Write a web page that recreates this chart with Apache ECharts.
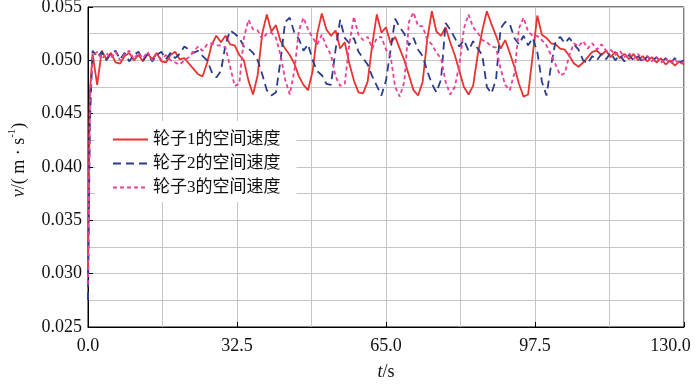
<!DOCTYPE html>
<html><head><meta charset="utf-8">
<script src="https://cdn.jsdelivr.net/npm/echarts@6/dist/echarts.min.js"></script>
<style>html,body{margin:0;padding:0;background:#fff}#c{width:700px;height:385px}</style>
</head><body><div id="c"></div>
<script>
const times = [0,0.4,1,2,3,4,5,6,7,8,9,10,11,12,13,14,15,16,17,18,19,20,21,22,23,24,25,26,27,28,29,30,31,32,33,34,35,36,37,38,39,40,41,42,43,44,45,46,47,48,49,50,51,52,53,54,55,56,57,58,59,60,61,62,63,64,65,66,67,68,69,70,71,72,73,74,75,76,77,78,79,80,81,82,83,84,85,86,87,88,89,90,91,92,93,94,95,96,97,98,99,100,101,102,103,104,105,106,107,108,109,110,111,112,113,114,115,116,117,118,119,120,121,122,123,124,125,126,127,128,129,130];
const wheel1 = [0.0300,0.0470,0.0506,0.0477,0.0509,0.0501,0.0507,0.0498,0.0497,0.0504,0.0507,0.0500,0.0505,0.0499,0.0506,0.0501,0.0507,0.0499,0.0498,0.0505,0.0508,0.0501,0.0502,0.0497,0.0492,0.0487,0.0485,0.0498,0.0515,0.0523,0.0517,0.0523,0.0515,0.0514,0.0505,0.0500,0.0481,0.0468,0.0486,0.0525,0.0543,0.0527,0.0533,0.0518,0.0511,0.0505,0.0497,0.0485,0.0477,0.0472,0.0490,0.0525,0.0544,0.0529,0.0523,0.0528,0.0511,0.0517,0.0497,0.0481,0.0470,0.0469,0.0480,0.0515,0.0543,0.0526,0.0531,0.0516,0.0522,0.0511,0.0500,0.0486,0.0472,0.0467,0.0480,0.0520,0.0546,0.0527,0.0523,0.0531,0.0517,0.0505,0.0490,0.0475,0.0468,0.0476,0.0505,0.0528,0.0546,0.0534,0.0523,0.0511,0.0519,0.0507,0.0494,0.0478,0.0466,0.0468,0.0505,0.0542,0.0524,0.0521,0.0516,0.0515,0.0511,0.0510,0.0504,0.0497,0.0494,0.0498,0.0503,0.0508,0.0509,0.0505,0.0509,0.0503,0.0508,0.0502,0.0506,0.0501,0.0506,0.0500,0.0504,0.0499,0.0503,0.0498,0.0502,0.0496,0.0500,0.0495,0.0499,0.0496];
const wheel2 = [0.0275,0.0440,0.0509,0.0503,0.0508,0.0500,0.0506,0.0509,0.0501,0.0507,0.0499,0.0505,0.0508,0.0500,0.0506,0.0499,0.0505,0.0508,0.0501,0.0507,0.0502,0.0506,0.0513,0.0510,0.0507,0.0509,0.0504,0.0500,0.0489,0.0484,0.0490,0.0515,0.0528,0.0525,0.0521,0.0513,0.0511,0.0507,0.0500,0.0487,0.0472,0.0467,0.0470,0.0500,0.0536,0.0540,0.0526,0.0520,0.0509,0.0515,0.0500,0.0490,0.0486,0.0478,0.0477,0.0510,0.0538,0.0521,0.0516,0.0521,0.0508,0.0502,0.0496,0.0485,0.0476,0.0467,0.0481,0.0510,0.0539,0.0531,0.0525,0.0514,0.0521,0.0510,0.0504,0.0490,0.0478,0.0470,0.0482,0.0535,0.0529,0.0521,0.0513,0.0519,0.0509,0.0518,0.0511,0.0505,0.0475,0.0469,0.0482,0.0530,0.0536,0.0534,0.0521,0.0515,0.0523,0.0514,0.0521,0.0508,0.0480,0.0467,0.0495,0.0518,0.0522,0.0516,0.0521,0.0515,0.0510,0.0500,0.0497,0.0504,0.0500,0.0506,0.0501,0.0507,0.0500,0.0505,0.0499,0.0505,0.0500,0.0504,0.0498,0.0504,0.0499,0.0503,0.0498,0.0502,0.0497,0.0502,0.0498,0.0500];
const wheel3 = [0.0290,0.0460,0.0504,0.0508,0.0501,0.0507,0.0502,0.0508,0.0500,0.0506,0.0509,0.0501,0.0507,0.0502,0.0508,0.0500,0.0506,0.0501,0.0505,0.0500,0.0498,0.0496,0.0500,0.0503,0.0508,0.0513,0.0509,0.0515,0.0516,0.0514,0.0514,0.0512,0.0494,0.0476,0.0478,0.0521,0.0538,0.0529,0.0528,0.0520,0.0525,0.0526,0.0521,0.0505,0.0482,0.0468,0.0490,0.0528,0.0540,0.0529,0.0521,0.0515,0.0524,0.0513,0.0505,0.0485,0.0476,0.0478,0.0515,0.0541,0.0524,0.0519,0.0522,0.0511,0.0521,0.0522,0.0510,0.0504,0.0475,0.0466,0.0480,0.0536,0.0545,0.0532,0.0532,0.0519,0.0515,0.0507,0.0502,0.0480,0.0468,0.0475,0.0496,0.0530,0.0543,0.0531,0.0526,0.0519,0.0517,0.0513,0.0512,0.0492,0.0477,0.0472,0.0488,0.0530,0.0540,0.0527,0.0523,0.0523,0.0519,0.0514,0.0505,0.0496,0.0486,0.0488,0.0505,0.0516,0.0513,0.0518,0.0511,0.0516,0.0510,0.0515,0.0509,0.0510,0.0505,0.0509,0.0503,0.0507,0.0501,0.0506,0.0500,0.0504,0.0499,0.0503,0.0498,0.0502,0.0497,0.0501,0.0496,0.0499];
const seriesNames = ['轮子1的空间速度','轮子2的空间速度','轮子3的空间速度'];
const xTicks = [0, 32.5, 65, 97.5, 130];
const yTicks = [0.025, 0.030, 0.035, 0.040, 0.045, 0.050, 0.055];

const FONT = "'Liberation Serif','Noto Sans CJK SC',serif";
const grey = '#cbc4c4';
const chart = echarts.init(document.getElementById('c'), null, {renderer:'canvas'});
const pairs = arr => times.map((t,i)=>[t, arr[i]]);
const colors = ['#e8332f','#2c3c8c','#ec3f96'];
const dashes = ['solid',[8,5],[4,3]];
const vals = [wheel1, wheel2, wheel3];
chart.setOption({
  animation:false,
  grid:{left:88,right:16,top:7,bottom:58,show:true,borderColor:'#000',borderWidth:1,backgroundColor:'transparent',
        containLabel:false, outerBoundsMode:'none'},
  legend:{
    orient:'vertical', left:95, top:121, itemWidth:35, itemHeight:14, itemGap:7,
    padding:[10,16,6,17], backgroundColor:'#fff',
    itemStyle:{opacity:0},
    textStyle:{fontFamily:FONT,fontSize:17,color:'#111'},
    data:seriesNames
  },
  xAxis:{
    type:'value', min:xTicks[0], max:xTicks[xTicks.length-1], interval:32.5,
    axisLine:{show:true,lineStyle:{color:'#000'}},
    axisTick:{show:true,inside:true,length:5,lineStyle:{color:'#000'}},
    minorTick:{show:false,splitNumber:2},
    splitLine:{show:true,lineStyle:{color:grey,width:1}},
    minorSplitLine:{show:true,lineStyle:{color:grey,width:1}},
    axisLabel:{fontFamily:FONT,fontSize:18,color:'#111',margin:10,
      formatter:v=> v===130 ? '{r|130.0}' : v.toFixed(1),
      rich:{r:{fontFamily:FONT,fontSize:18,color:'#111',padding:[0,27,0,0]}}},
    name:'{i|t}/s', nameLocation:'middle', nameGap:36,
    nameTextStyle:{fontFamily:FONT,fontSize:18,color:'#111',rich:{i:{fontFamily:FONT,fontSize:18,fontStyle:'italic',color:'#111'}}}
  },
  yAxis:{
    type:'value', min:yTicks[0], max:yTicks[yTicks.length-1], interval:0.005,
    axisLine:{show:true,lineStyle:{color:'#000'}},
    axisTick:{show:true,inside:true,length:5,lineStyle:{color:'#000'}},
    minorTick:{show:false,splitNumber:2},
    splitLine:{show:true,lineStyle:{color:grey,width:1}},
    minorSplitLine:{show:true,lineStyle:{color:grey,width:1}},
    axisLabel:{fontFamily:FONT,fontSize:18,color:'#111',margin:6,formatter:v=>v.toFixed(3)},
    name:'{i|v}/( m · s{s|-1})', nameLocation:'middle', nameGap:57, nameRotate:90,
    nameTextStyle:{fontFamily:FONT,fontSize:18,color:'#111',padding:[0,0,0,14],
      rich:{i:{fontFamily:FONT,fontSize:18,fontStyle:'italic',color:'#111'},
            s:{fontFamily:FONT,fontSize:11,color:'#111',padding:[0,0,13,0]}}}
  },
  series: vals.map((v,k)=>({
    name:seriesNames[k], type:'line', data:pairs(v), symbol:'none', showSymbol:false,
    clip:true, lineStyle:{color:colors[k],width:1.8,type:dashes[k]}, itemStyle:{color:colors[k]}
  }))
});
</script></body></html>
